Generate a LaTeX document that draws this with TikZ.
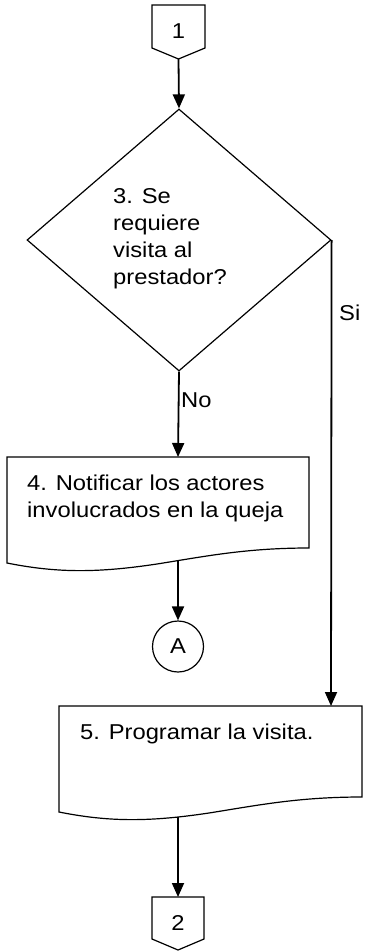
\documentclass[tikz,border=0pt]{standalone}
\usepackage{fontspec}
\setmainfont[FakeStretch=1.105]{Liberation Sans}
\usetikzlibrary{arrows.meta,shapes.geometric}
\begin{document}
\begin{tikzpicture}[x=1pt,y=-1pt,
  outline/.style={draw, line width=1.2pt, line join=miter},
  flow/.style={line width=1.8pt, -{Triangle[length=14pt,width=12pt]}},
  lbl/.style={font=\fontsize{21.5}{27}\selectfont, inner sep=0pt, align=left}]
\useasboundingbox (0,0) rectangle (366,951);
% off-page connector 1
\draw[outline] (152,5) -- (205,5) -- (205,48) -- (178.5,59) -- (152,48) -- cycle;
\coordinate (c1b) at (178.5,59);
\node[lbl] (c1) at (178.5,31) {1};
% decision
\node[diamond, draw, line width=1.2pt, minimum width=304pt, minimum height=262pt, inner sep=0pt] (d) at (179,240) {};
\node[lbl, anchor=base west] (dt) at (113,284) {3. Se\\requiere\\visita al\\prestador?};
\draw[flow] (c1b) -- (d.north);
% box 4
\draw[outline] (7,457) -- (309,457) -- (309,548) .. controls (247,548) and (207,556) .. (157,564) .. controls (97,573) and (57,573) .. (7,563) -- cycle;
\coordinate (b4t) at (178,457);
\coordinate (b4b) at (178,560.5);
\node[lbl, anchor=base west] (b4) at (27,517) {4. Notificar los actores\\involucrados en la queja};
\draw[flow] (d.south) -- (b4t);
\node[lbl, anchor=base west] (no) at (181,407) {No};
% connector A
\node[circle, draw, line width=1.2pt, minimum size=51pt, lbl, align=center] (A) at (178,646.5) {A};
\draw[flow] (b4b) -- (A.north);
% box 5
\draw[outline] (59,706) -- (362,706) -- (362,797) .. controls (299,797) and (259,805) .. (209,813) .. controls (149,822) and (109,822) .. (59,812) -- cycle;
\coordinate (b5t) at (331,706);
\coordinate (b5b) at (178,816.6);
\node[lbl, anchor=base west] (b5) at (80,739) {5. Programar la visita.};
\draw[flow] (d.east) -- (b5t);
\node[lbl, anchor=base west] (si) at (339,320) {Si};
% off-page connector 2
\draw[outline] (152,897) -- (204,897) -- (204,939) -- (178,950) -- (152,939) -- cycle;
\coordinate (c2t) at (178,897);
\node[lbl] (c2) at (178,923) {2};
\draw[flow] (b5b) -- (c2t);
\end{tikzpicture}
\end{document}
